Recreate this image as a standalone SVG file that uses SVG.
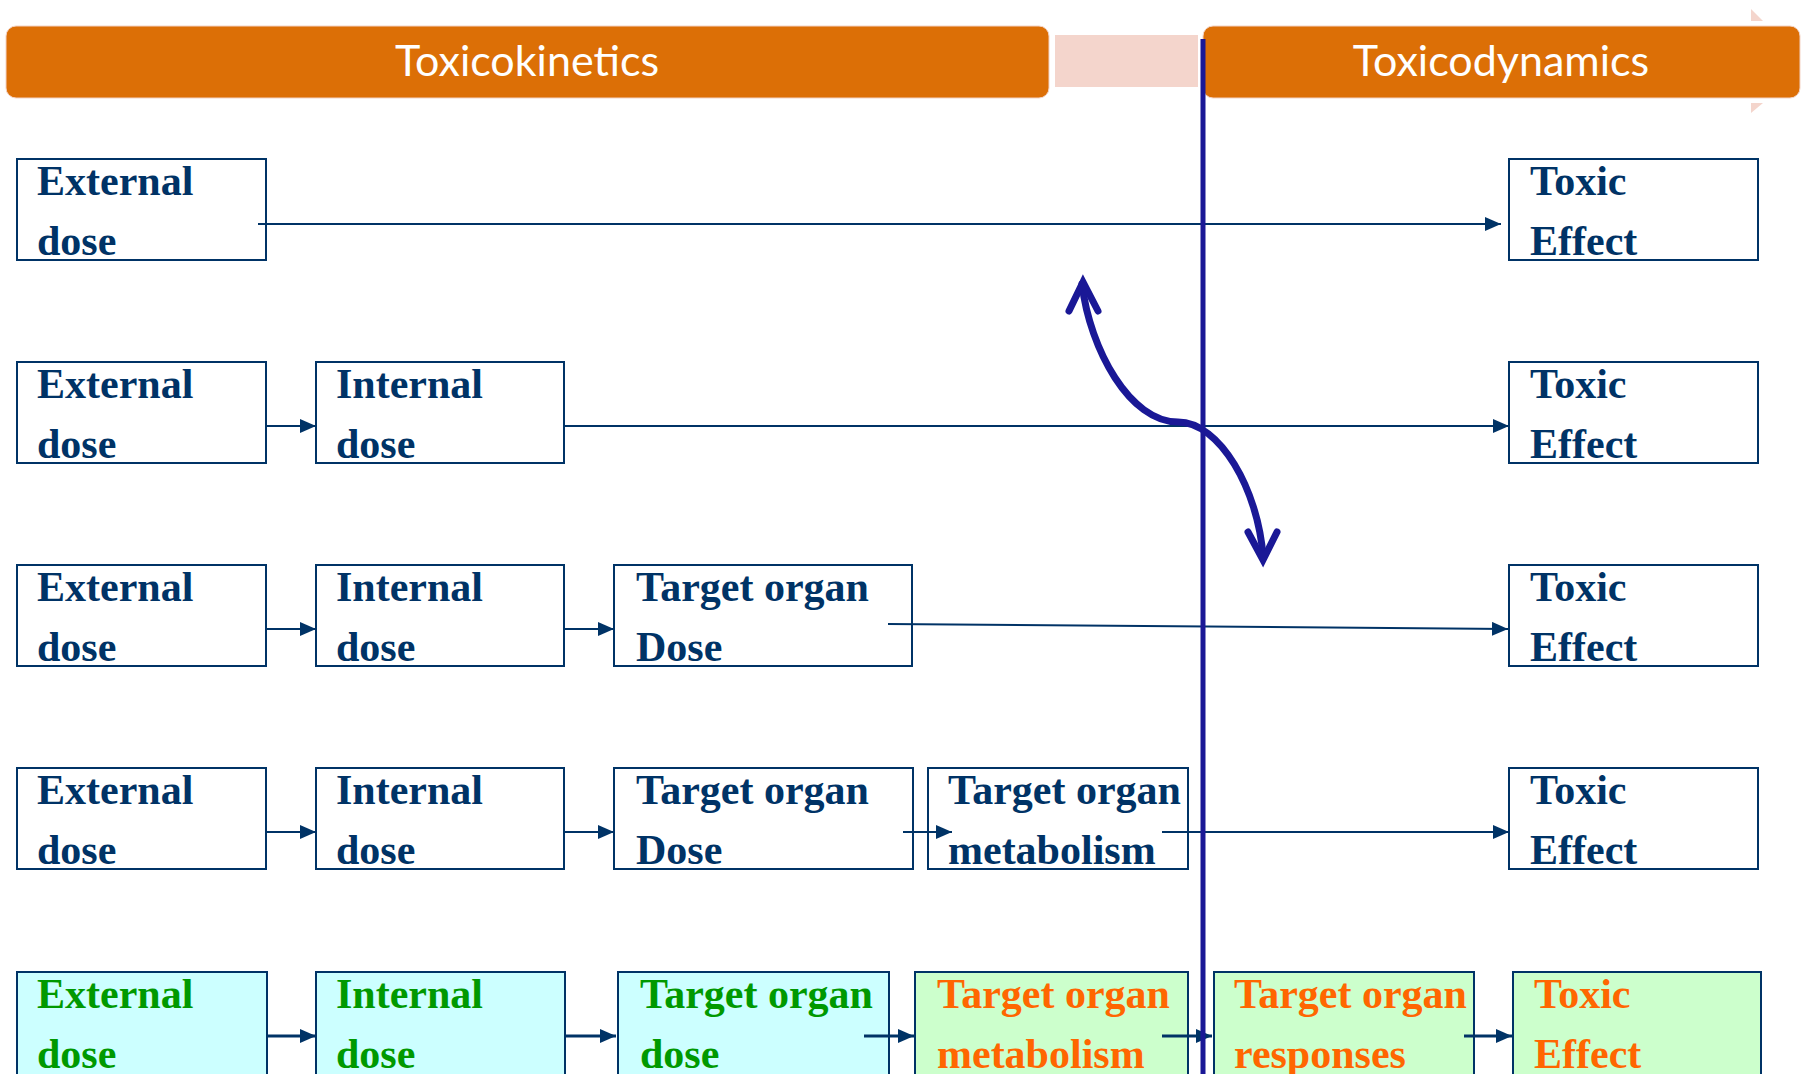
<svg xmlns="http://www.w3.org/2000/svg" width="1806" height="1074" viewBox="0 0 1806 1074">
<defs>
<style>
.hdr{fill:#DC6F06;stroke:#F3D3C5;stroke-width:1}
.ht{font-family:Lato,"Open Sans",sans-serif;font-size:43px;fill:#ffffff;text-anchor:middle}
.box{fill:#ffffff;stroke:#003366;stroke-width:2}
.cy{fill:#CCFFFF;stroke:#003366;stroke-width:2}
.gr{fill:#CCFFCC;stroke:#003366;stroke-width:2}
.t{font-family:"Liberation Serif","Times New Roman",serif;font-weight:bold;font-size:42px;fill:#003366}
.tg{fill:#009900}
.to{fill:#FF6600}
.c{stroke:#003366;stroke-width:2;fill:none}
.c5{stroke:#003366;stroke-width:3;fill:none}
.blue{stroke:#1A1896;fill:none}
</style>
<marker id="ah" markerUnits="userSpaceOnUse" markerWidth="16" markerHeight="14" refX="16" refY="7" orient="auto">
<path d="M0,0 L16,7 L0,14 z" fill="#003366"/>
</marker>
</defs>
<rect width="1806" height="1074" fill="#ffffff"/>

<g id="header">
<rect class="hdr" x="6" y="26" width="1043" height="72" rx="10"/>
<rect x="1055" y="35" width="143" height="52" fill="#F4D5CC"/>
<rect class="hdr" x="1203" y="26" width="597" height="72" rx="10"/>
<polygon points="1751,9 1763,21 1751,21" fill="#F4D5CC"/>
<polygon points="1751,103 1763,103 1751,113" fill="#F4D5CC"/>
<text class="ht" x="527" y="76">Toxicokinetics</text>
<text class="ht" x="1501" y="76">Toxicodynamics</text>
</g>

<g id="row1">
<g id="r1-external"><rect class="box" x="17" y="159" width="249" height="101"/><text class="t" x="37" y="195">External</text><text class="t" x="37" y="255">dose</text></g>
<g id="r1-toxic"><rect class="box" x="1509" y="159" width="249" height="101"/><text class="t" x="1530" y="195">Toxic</text><text class="t" x="1530" y="255">Effect</text></g>
</g>

<g id="row2">
<g id="r2-external"><rect class="box" x="17" y="362" width="249" height="101"/><text class="t" x="37" y="398">External</text><text class="t" x="37" y="458">dose</text></g>
<g id="r2-internal"><rect class="box" x="316" y="362" width="248" height="101"/><text class="t" x="336" y="398">Internal</text><text class="t" x="336" y="458">dose</text></g>
<g id="r2-toxic"><rect class="box" x="1509" y="362" width="249" height="101"/><text class="t" x="1530" y="398">Toxic</text><text class="t" x="1530" y="458">Effect</text></g>
</g>

<g id="row3">
<g id="r3-external"><rect class="box" x="17" y="565" width="249" height="101"/><text class="t" x="37" y="601">External</text><text class="t" x="37" y="661">dose</text></g>
<g id="r3-internal"><rect class="box" x="316" y="565" width="248" height="101"/><text class="t" x="336" y="601">Internal</text><text class="t" x="336" y="661">dose</text></g>
<g id="r3-target"><rect class="box" x="614" y="565" width="298" height="101"/><text class="t" x="636" y="601">Target organ</text><text class="t" x="636" y="661">Dose</text></g>
<g id="r3-toxic"><rect class="box" x="1509" y="565" width="249" height="101"/><text class="t" x="1530" y="601">Toxic</text><text class="t" x="1530" y="661">Effect</text></g>
</g>

<g id="row4">
<g id="r4-external"><rect class="box" x="17" y="768" width="249" height="101"/><text class="t" x="37" y="804">External</text><text class="t" x="37" y="864">dose</text></g>
<g id="r4-internal"><rect class="box" x="316" y="768" width="248" height="101"/><text class="t" x="336" y="804">Internal</text><text class="t" x="336" y="864">dose</text></g>
<g id="r4-target"><rect class="box" x="614" y="768" width="299" height="101"/><text class="t" x="636" y="804">Target organ</text><text class="t" x="636" y="864">Dose</text></g>
<g id="r4-metab"><rect class="box" x="928" y="768" width="260" height="101"/><text class="t" x="948" y="804">Target organ</text><text class="t" x="948" y="864">metabolism</text></g>
<g id="r4-toxic"><rect class="box" x="1509" y="768" width="249" height="101"/><text class="t" x="1530" y="804">Toxic</text><text class="t" x="1530" y="864">Effect</text></g>
</g>

<g id="row5">
<g id="r5-external"><rect class="cy" x="17" y="972" width="250" height="110"/><text class="t tg" x="37" y="1008">External</text><text class="t tg" x="37" y="1068">dose</text></g>
<g id="r5-internal"><rect class="cy" x="316" y="972" width="249" height="110"/><text class="t tg" x="336" y="1008">Internal</text><text class="t tg" x="336" y="1068">dose</text></g>
<g id="r5-target"><rect class="cy" x="618" y="972" width="271" height="110"/><text class="t tg" x="640" y="1008">Target organ</text><text class="t tg" x="640" y="1068">dose</text></g>
<g id="r5-metab"><rect class="gr" x="915" y="972" width="273" height="110"/><text class="t to" x="937" y="1008">Target organ</text><text class="t to" x="937" y="1068">metabolism</text></g>
<g id="r5-resp"><rect class="gr" x="1214" y="972" width="260" height="110"/><text class="t to" x="1234" y="1008">Target organ</text><text class="t to" x="1234" y="1068">responses</text></g>
<g id="r5-toxic"><rect class="gr" x="1513" y="972" width="248" height="110"/><text class="t to" x="1534" y="1008">Toxic</text><text class="t to" x="1534" y="1068">Effect</text></g>
</g>

<g id="connectors">
<line class="c" x1="258" y1="224" x2="1501" y2="224" marker-end="url(#ah)"/>
<line class="c" x1="266" y1="426" x2="316" y2="426" marker-end="url(#ah)"/>
<line class="c" x1="564" y1="426" x2="1509" y2="426" marker-end="url(#ah)"/>
<line class="c" x1="266" y1="629" x2="316" y2="629" marker-end="url(#ah)"/>
<line class="c" x1="564" y1="629" x2="614" y2="629" marker-end="url(#ah)"/>
<line class="c" x1="888" y1="624" x2="1508" y2="629" marker-end="url(#ah)"/>
<line class="c" x1="266" y1="832" x2="316" y2="832" marker-end="url(#ah)"/>
<line class="c" x1="564" y1="832" x2="614" y2="832" marker-end="url(#ah)"/>
<line class="c" x1="903" y1="832" x2="952" y2="832" marker-end="url(#ah)"/>
<line class="c" x1="1162" y1="832" x2="1509" y2="832" marker-end="url(#ah)"/>
<line class="c5" x1="267" y1="1036" x2="316" y2="1036" marker-end="url(#ah)"/>
<line class="c5" x1="565" y1="1036" x2="616" y2="1036" marker-end="url(#ah)"/>
<line class="c5" x1="864" y1="1036" x2="914" y2="1036" marker-end="url(#ah)"/>
<line class="c5" x1="1162" y1="1036" x2="1212" y2="1036" marker-end="url(#ah)"/>
<line class="c5" x1="1464" y1="1036" x2="1512" y2="1036" marker-end="url(#ah)"/>
</g>

<g id="divider">
<line class="blue" x1="1203" y1="39" x2="1203" y2="1074" stroke-width="5"/>
</g>

<g id="interaction-arrow">
<path class="blue" stroke-width="7" stroke-linecap="round" d="M1082,284 C1090,350 1130,422 1178,422 C1220,422 1258,490 1263,556"/>
<path class="blue" stroke-width="7" stroke-linecap="round" stroke-linejoin="miter" d="M1069,311 L1083,282 L1098,311"/>
<path class="blue" stroke-width="7" stroke-linecap="round" stroke-linejoin="miter" d="M1248,532 L1263,560 L1277,532"/>
</g>
</svg>
